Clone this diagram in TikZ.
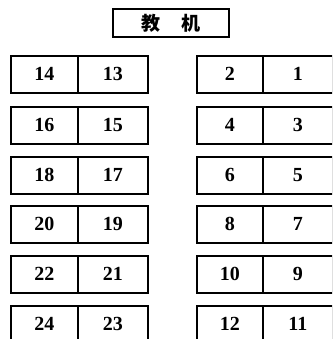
\documentclass[tikz,border=0pt]{standalone}
\usepackage{fontspec}
\setmainfont{Liberation Serif}
\newfontfamily\cjk{Noto Sans CJK SC}
\begin{document}
\begin{tikzpicture}[x=1pt,y=-1pt,
  cell/.style={draw,line width=1.6pt,anchor=north west,inner sep=0pt,
    font=\fontsize{20}{20}\selectfont\bfseries,text height=12pt,text depth=0pt},
  titlebox/.style={draw,line width=1.6pt,inner sep=0pt,minimum width=116pt,minimum height=28pt,
    font=\cjk\bfseries\fontsize{19}{19}\selectfont}]
\useasboundingbox (0,0) rectangle (332,339);
\clip (0,0) rectangle (332,339);
\node[titlebox] (title) at (171,23) {教\hspace{1.1em}机};
\foreach \r/\top in {0/55,1/106,2/156,3/205,4/255,5/305}{
  \pgfmathtruncatemacro{\la}{14+2*\r}
  \pgfmathtruncatemacro{\lb}{13+2*\r}
  \pgfmathtruncatemacro{\ra}{2+2*\r}
  \pgfmathtruncatemacro{\rb}{1+2*\r}
  \node[cell,minimum width=67pt,minimum height=37pt] (n\la) at (10,\top) {\la};
  \node[cell,minimum width=70pt,minimum height=37pt] (n\lb) at (77,\top) {\lb};
  \node[cell,minimum width=66pt,minimum height=37pt] (n\ra) at (196,\top) {\ra};
  \node[cell,minimum width=70pt,minimum height=37pt] (n\rb) at (262,\top) {\rb};
}
\end{tikzpicture}
\end{document}
